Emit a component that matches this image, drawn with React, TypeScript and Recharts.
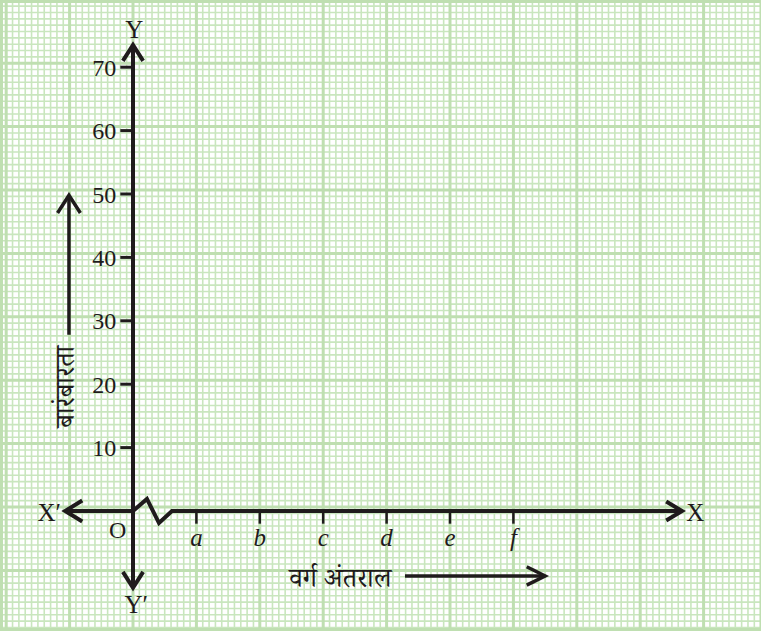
import { ComposedChart, XAxis, YAxis, CartesianGrid, Line, LabelList, ReferenceDot } from "recharts";

// frequency tick labels on the Y axis
const Y_TICKS = [10, 20, 30, 40, 50, 60, 70];
// class intervals marked on the X axis
const CLASSES = ["a", "b", "c", "d", "e", "f"];
const CLASS_POS = [1, 2, 3, 4, 5, 6];

const Y_TITLE = "बारंबारता";
const X_TITLE = "वर्ग अंतराल";

// page geometry (px): where the origin sits and how big one big square is
const W = 761;
const H = 631;
const ORIGIN_X = 133;
const ORIGIN_Y = 511;
const SQUARE = 63.4;
const PER_SQUARE = 10; // frequency per big square

const X_DOMAIN: [number, number] = [-ORIGIN_X / SQUARE, (W - ORIGIN_X) / SQUARE];
const Y_DOMAIN: [number, number] = [
  (-(H - ORIGIN_Y) / SQUARE) * PER_SQUARE,
  (ORIGIN_Y / SQUARE) * PER_SQUARE,
];

// graph paper: printed grid sits a touch above the drawn axis
const GRID_SHIFT = 0.63;
const range = (a: number, b: number) => Array.from({ length: b - a + 1 }, (_, i) => a + i);
const MINOR_X = range(-21, 99).map((i) => i / 10);
const MAJOR_X = range(-2, 9);
const MINOR_Y = range(-19, 80).map((i) => i + GRID_SHIFT);
const MAJOR_Y = range(-1, 8).map((i) => i * 10 + GRID_SHIFT);

// axis shapes, in chart units (x: class widths, y: frequency)
const X_AXIS_LINE = [
  { x: -1.07, y: 0 },
  { x: 0, y: 0 },
  { x: 0.22, y: 1.9 },
  { x: 0.41, y: -1.9 },
  { x: 0.615, y: 0 },
  { x: 8.66, y: 0 },
];
const Y_AXIS_LINE = [
  { x: 0, y: -12.1 },
  { x: 0, y: 73.5 },
];
const HEAD_X = [
  { x: 8.41, y: 1.5 },
  { x: 8.66, y: 0 },
  { x: 8.41, y: -1.5 },
];
const HEAD_XNEG = [
  { x: -0.8, y: 1.65 },
  { x: -1.07, y: 0 },
  { x: -0.8, y: -1.65 },
];
const HEAD_Y = [
  { x: -0.16, y: 71 },
  { x: 0, y: 73.5 },
  { x: 0.16, y: 71 },
];
const HEAD_YNEG = [
  { x: -0.16, y: -9.6 },
  { x: 0, y: -12.1 },
  { x: 0.16, y: -9.6 },
];
// title arrows
const X_TITLE_ARROW = [
  { x: 4.29, y: -10.25 },
  { x: 6.5, y: -10.25 },
];
const X_TITLE_HEAD = [
  { x: 6.21, y: -8.8 },
  { x: 6.5, y: -10.25 },
  { x: 6.21, y: -11.7 },
];
const Y_TITLE_ARROW = [
  { x: -1.01, y: 27.8 },
  { x: -1.01, y: 49.8 },
];
const Y_TITLE_HEAD = [
  { x: -1.19, y: 47 },
  { x: -1.01, y: 49.8 },
  { x: -0.83, y: 47 },
];

const INK = "#1f1b1c";
const SERIF = "'Liberation Serif', 'Times New Roman', serif";
const DEVA = "'Noto Serif Devanagari', 'Noto Sans Devanagari', 'Lohit Devanagari', 'Noto Sans', sans-serif";
const TICK_W = 0.2;
const TICK_H = 2;

function Stroke({ data, width = 4 }: { data: { x: number; y: number }[]; width?: number }) {
  return (
    <Line
      xAxisId="main"
      yAxisId="main"
      data={data}
      dataKey="y"
      type="linear"
      stroke={INK}
      strokeWidth={width}
      strokeLinejoin="miter"
      dot={false}
      activeDot={false}
      isAnimationActive={false}
    />
  );
}

function Tag({ x, y, text, size = 25, font = SERIF, angle = 0 }: { x: number; y: number; text: string; size?: number; font?: string; angle?: number }) {
  return (
    <ReferenceDot
      xAxisId="main"
      yAxisId="main"
      x={x}
      y={y}
      r={0}
      stroke="none"
      fill="none"
      label={{ value: text, position: "center", fontSize: size, fontFamily: font, fill: INK, angle }}
    />
  );
}

export default function App() {
  const yLabels = Y_TICKS.map((v) => ({ x: -TICK_W, y: v, label: String(v) }));
  const xLabels = CLASS_POS.map((p, i) => ({ x: p, y: -TICK_H, label: CLASSES[i] }));

  return (
    <div style={{ position: "absolute", left: 0, top: 0, width: W, height: H, background: "#ffffff" }}>
      <ComposedChart width={W} height={H} margin={{ top: 0, right: 0, bottom: 0, left: 0 }}>
        <XAxis xAxisId="minor" type="number" dataKey="x" domain={X_DOMAIN} ticks={MINOR_X} interval={0} allowDataOverflow hide />
        <YAxis yAxisId="minor" type="number" domain={Y_DOMAIN} ticks={MINOR_Y} interval={0} allowDataOverflow hide />
        <XAxis xAxisId="major" type="number" dataKey="x" domain={X_DOMAIN} ticks={MAJOR_X} interval={0} allowDataOverflow hide />
        <YAxis yAxisId="major" type="number" domain={Y_DOMAIN} ticks={MAJOR_Y} interval={0} allowDataOverflow hide />
        <XAxis xAxisId="main" type="number" dataKey="x" domain={X_DOMAIN} allowDataOverflow hide />
        <YAxis yAxisId="main" type="number" domain={Y_DOMAIN} allowDataOverflow hide />

        <CartesianGrid xAxisId="minor" yAxisId="minor" stroke="#c9e6be" strokeWidth={1.6} />
        <CartesianGrid xAxisId="major" yAxisId="major" stroke="#bfdfb1" strokeWidth={3} />

        {/* axes */}
        <Stroke data={X_AXIS_LINE} />
        <Stroke data={Y_AXIS_LINE} />
        <Stroke data={HEAD_X} />
        <Stroke data={HEAD_XNEG} />
        <Stroke data={HEAD_Y} />
        <Stroke data={HEAD_YNEG} />

        {/* tick marks */}
        {Y_TICKS.map((v) => (
          <Stroke key={"yt" + v} width={3} data={[{ x: -TICK_W, y: v }, { x: 0, y: v }]} />
        ))}
        {CLASS_POS.map((p) => (
          <Stroke key={"xt" + p} width={2.5} data={[{ x: p, y: 0 }, { x: p, y: -TICK_H }]} />
        ))}

        <Line xAxisId="main" yAxisId="main" data={yLabels} dataKey="y" stroke="none" dot={false} activeDot={false} isAnimationActive={false}>
          <LabelList dataKey="label" position="left" offset={4} fontSize={24} fontFamily={SERIF} fill={INK} />
        </Line>
        <Line xAxisId="main" yAxisId="main" data={xLabels} dataKey="y" stroke="none" dot={false} activeDot={false} isAnimationActive={false}>
          <LabelList dataKey="label" position="bottom" offset={5} fontSize={25} fontFamily={SERIF} fontStyle="italic" fill={INK} />
        </Line>

        {/* titles with their arrows */}
        <Stroke data={X_TITLE_ARROW} width={3.5} />
        <Stroke data={X_TITLE_HEAD} width={3.5} />
        <Stroke data={Y_TITLE_ARROW} width={3.5} />
        <Stroke data={Y_TITLE_HEAD} width={3.5} />
        <Tag x={3.27} y={-10.5} text={X_TITLE} size={27} font={DEVA} />
        <Tag x={-1.08} y={19.6} text={Y_TITLE} size={27} font={DEVA} angle={-90} />

        <Tag x={0.02} y={76.0} text="Y" />
        <Tag x={0.05} y={-14.7} text="Y′" />
        <Tag x={8.87} y={-0.1} text="X" />
        <Tag x={-1.32} y={-0.1} text="X′" />
        <Tag x={-0.24} y={-2.9} text="O" size={24} />
      </ComposedChart>
      <div
        style={{
          position: "absolute",
          left: 0,
          top: 0,
          width: W - 3,
          height: H - 6,
          borderLeft: "3px solid #bfdfb1",
          borderTop: "3px solid #bfdfb1",
          borderBottom: "3px solid #bfdfb1",
          pointerEvents: "none",
        }}
      />
    </div>
  );
}
